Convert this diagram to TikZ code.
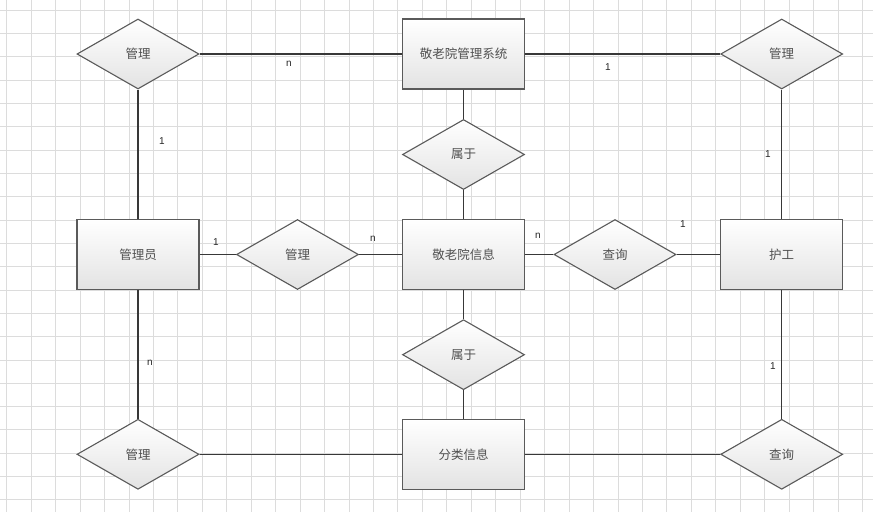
\documentclass[tikz,border=0pt]{standalone}
\usepackage{fontspec}
\setmainfont{Liberation Sans}
\newfontfamily\cjk{Noto Sans CJK SC}
\usetikzlibrary{shapes.geometric}
\definecolor{gridc}{HTML}{DCDCDC}
\definecolor{bordc}{HTML}{5A5A5A}
\definecolor{txtc}{HTML}{505050}
\tikzset{
	shiti/.style={draw=bordc,line width=1.1pt,rectangle,minimum width=122pt,minimum height=70pt,inner sep=0pt,
		top color=white,bottom color=black!11,text=txtc,font=\cjk\fontsize{12.5}{14}\selectfont},
	lianxi/.style={draw=bordc,line width=1.1pt,diamond,aspect=1.74,minimum width=122pt,minimum height=70pt,inner sep=0pt,
		top color=white,bottom color=black!11,text=txtc,font=\cjk\fontsize{12.5}{14}\selectfont},
	lbl/.style={font=\fontsize{10}{11}\selectfont,text=black!85,inner sep=0pt},
	xian/.style={draw=black!78,line width=1.1pt}
}
\begin{document}
\begin{tikzpicture}[x=1pt,y=-1pt]
		\useasboundingbox (0,0) rectangle (873,512);
		\fill[white] (0,0) rectangle (873,512);
		% grid
		\foreach \i in {0,...,35} \draw[gridc,line width=0.9pt] (6.7+24.45*\i,0) -- (6.7+24.45*\i,512);
		\foreach \j in {0,...,21} \draw[gridc,line width=0.9pt] (0,10+23.33*\j) -- (873,10+23.33*\j);
		% entities and relations
		\node (guanli1)   [lianxi] at (138,54) {管理};
		\node (xitong)    [shiti]  at (463.5,54) {敬老院管理系统};
		\node (guanli2)   [lianxi] at (781.7,54) {管理};
		\node (shuyu1)    [lianxi] at (463.5,154.5) {属于};
		\node (guanliyuan)[shiti]  at (138,254.5) {管理员};
		\node (guanli3)   [lianxi] at (297.5,254.5) {管理};
		\node (xinxi)     [shiti]  at (463.5,254.5) {敬老院信息};
		\node (chaxun1)   [lianxi] at (615,254.5) {查询};
		\node (hugong)    [shiti]  at (781.7,254.5) {护工};
		\node (shuyu2)    [lianxi] at (463.5,354.7) {属于};
		\node (guanli4)   [lianxi] at (138,454.3) {管理};
		\node (fenlei)    [shiti]  at (463.5,454.3) {分类信息};
		\node (chaxun2)   [lianxi] at (781.7,454.3) {查询};
		% connectors
		\draw [xian] (guanli1) -- (xitong);
		\draw [xian] (xitong) -- (guanli2);
		\draw [xian] (guanli1) -- (guanliyuan);
		\draw [xian] (guanli2) -- (hugong);
		\draw [xian] (xitong) -- (shuyu1);
		\draw [xian] (shuyu1) -- (xinxi);
		\draw [xian] (guanliyuan) -- (guanli3);
		\draw [xian] (guanli3) -- (xinxi);
		\draw [xian] (xinxi) -- (chaxun1);
		\draw [xian] (chaxun1) -- (hugong);
		\draw [xian] (xinxi) -- (shuyu2);
		\draw [xian] (shuyu2) -- (fenlei);
		\draw [xian] (guanliyuan) -- (guanli4);
		\draw [xian] (hugong) -- (chaxun2);
		\draw [xian] (guanli4) -- (fenlei);
		\draw [xian] (fenlei) -- (chaxun2);
		% cardinalities
		\node (m1) [lbl] at (289,63.5) {n};
		\node (m2) [lbl] at (608,67.5) {1};
		\node (m3) [lbl] at (162,141) {1};
		\node (m4) [lbl] at (768,154.5) {1};
		\node (m5) [lbl] at (216,242) {1};
		\node (m6) [lbl] at (373,238.5) {n};
		\node (m7) [lbl] at (538,235.5) {n};
		\node (m8) [lbl] at (683,224.5) {1};
		\node (m9) [lbl] at (150,363) {n};
		\node (m10)[lbl] at (773,366) {1};
	\end{tikzpicture}
\end{document}
